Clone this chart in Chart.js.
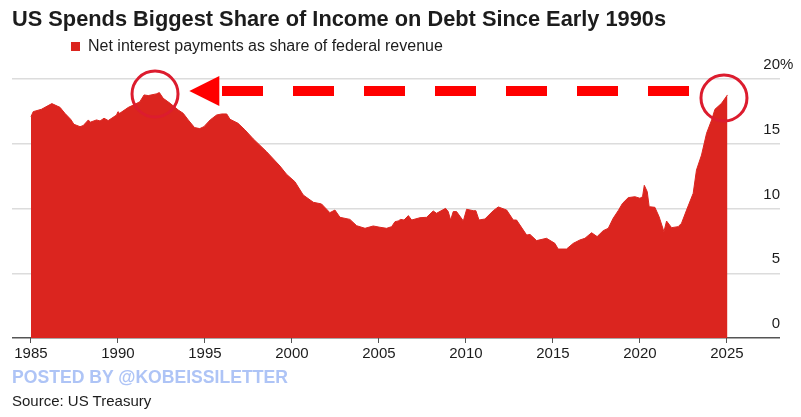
<!DOCTYPE html>
<html>
<head>
<meta charset="utf-8">
<title>US Spends Biggest Share of Income on Debt Since Early 1990s</title>
<script src="https://cdn.jsdelivr.net/npm/chart.js@4"></script>
<style>
    html, body { margin: 0; padding: 0; background: #fff; }
    body { width: 801px; height: 417px; position: relative; overflow: hidden; font-family: "Liberation Sans", Arial, sans-serif; color: #1c1c1c; }
    canvas { position: absolute; left: 0; top: 0; }
    .texto { position: absolute; white-space: nowrap; }
    #titulo { left: 12px; top: 6px; font-size: 21.8px; font-weight: bold; }
    #leyenda { left: 88px; top: 37px; font-size: 16px; }
    #cuadro { position: absolute; left: 71px; top: 42px; width: 9px; height: 9px; background: #db251f; }
    #marca { left: 12px; top: 367px; font-size: 17.6px; font-weight: bold; color: #aec4f6; }
    #fuente { left: 12px; top: 392px; font-size: 15px; }
</style>
</head>
<body>
<canvas id="grafica" width="801" height="417"></canvas>
<div class="texto" id="titulo">US Spends Biggest Share of Income on Debt Since Early 1990s</div>
<div id="cuadro"></div>
<div class="texto" id="leyenda">Net interest payments as share of federal revenue</div>
<div class="texto" id="marca">POSTED BY @KOBEISSILETTER</div>
<div class="texto" id="fuente">Source: US Treasury</div>
<script>
const years = [
    1985, 1985.13, 1985.6, 1986.2, 1986.67, 1986.95, 1987.28, 1987.47, 1987.82, 1988, 1988.3, 1988.4,
    1988.77, 1988.97, 1989.2, 1989.44, 1989.92, 1990, 1990.1, 1990.6, 1990.98, 1991.26, 1991.5, 1991.74,
    1992.2, 1992.38, 1992.6, 1993, 1993.47, 1993.75, 1994.04, 1994.4, 1994.7, 1994.94, 1995.3, 1995.67,
    1995.96, 1996.25, 1996.44, 1996.9, 1997.3, 1997.78, 1998.54, 1999.31, 1999.69, 2000.17, 2000.65, 2001.23,
    2001.7, 2002.18, 2002.47, 2002.76, 2003.33, 2003.72, 2004.2, 2004.67, 2005.06, 2005.44, 2005.73, 2005.92,
    2006.11, 2006.25, 2006.44, 2006.69, 2006.88, 2007.36, 2007.74, 2008.12, 2008.31, 2008.83, 2008.98, 2009.12,
    2009.27, 2009.46, 2009.85, 2010.04, 2010.42, 2010.57, 2010.75, 2011.09, 2011.57, 2011.86, 2012.34, 2012.72,
    2012.91, 2013.49, 2013.68, 2014.06, 2014.63, 2015.11, 2015.3, 2015.78, 2016.17, 2016.55, 2016.84, 2017.22,
    2017.54, 2017.89, 2018.18, 2018.46, 2018.75, 2019, 2019.33, 2019.71, 2020, 2020.15, 2020.25, 2020.42,
    2020.53, 2020.86, 2021.1, 2021.38, 2021.53, 2021.82, 2022.2, 2022.39, 2022.68, 2023.06, 2023.25, 2023.54,
    2023.83, 2024.12, 2024.31, 2024.69, 2025.03
];
const shares = [
    17.09, 17.48, 17.66, 18.1, 17.81, 17.35, 16.89, 16.5, 16.32, 16.4, 16.84, 16.66,
    16.84, 16.76, 16.97, 16.79, 17.22, 17.48, 17.35, 17.81, 18.05, 18.25, 18.77, 18.72,
    18.85, 18.95, 18.51, 18.12, 17.6, 17.35, 16.84, 16.25, 16.17, 16.32, 16.84, 17.22,
    17.3, 17.3, 16.89, 16.58, 16.07, 15.37, 14.39, 13.28, 12.64, 12.07, 11.04, 10.48,
    10.35, 9.68, 9.88, 9.32, 9.16, 8.67, 8.47, 8.65, 8.55, 8.47, 8.6, 8.98,
    9.04, 9.16, 9.11, 9.45, 9.11, 9.29, 9.32, 9.81, 9.63, 10.01, 9.76, 9.11,
    9.76, 9.76, 9.04, 9.94, 9.83, 9.83, 9.11, 9.19, 9.83, 10.12, 9.88, 9.11,
    9.11, 7.95, 8, 7.52, 7.7, 7.31, 6.87, 6.87, 7.31, 7.57, 7.7, 8.13,
    7.83, 8.29, 8.47, 9.24, 9.83, 10.4, 10.84, 10.91, 10.79, 10.91, 11.79, 11.3,
    10.14, 10.09, 9.37, 8.21, 9.03, 8.52, 8.6, 8.86, 9.88, 11.17, 12.97, 14.13,
    15.81, 16.83, 17.66, 18.12, 18.77
];
const xTicks = [1985, 1990, 1995, 2000, 2005, 2010, 2015, 2020, 2025];
const yTicks = [0, 5, 10, 15, 20];

// anotaciones: circulos sobre los dos picos y la flecha punteada entre ellos
const circleYears = [1992.13, 2024.83];
const circleValues = [18.84, 18.53];
const arrowYears = [2022.82, 1995.98];
const arrowValues = [19.07, 19.07];
const arrowTipYear = 1994.1;

const rojo = '#db251f';

const extras = {
    id: 'extras',
    afterDatasetsDraw(chart) {
        const { ctx, scales } = chart;
        const tipX = scales.x.getPixelForValue(arrowTipYear);
        const midY = scales.y.getPixelForValue(arrowValues[0]);
        ctx.save();
        ctx.fillStyle = '#ff0000';
        ctx.beginPath();
        ctx.moveTo(tipX, midY);
        ctx.lineTo(tipX + 30, midY - 15);
        ctx.lineTo(tipX + 30, midY + 15);
        ctx.closePath();
        ctx.fill();
        ctx.restore();
    },
    afterDraw(chart) {
        // el % queda colgando a la derecha del 20
        const { ctx, scales } = chart;
        ctx.save();
        ctx.font = '15px "Liberation Sans"';
        ctx.fillStyle = '#1c1c1c';
        ctx.textBaseline = 'middle';
        ctx.fillText('%', scales.y.right, scales.y.getPixelForValue(20) - 14);
        ctx.restore();
    }
};

new Chart(document.getElementById('grafica'), {
    type: 'line',
    data: {
        datasets: [
            {
                data: circleYears.map((x, i) => ({ x: x, y: circleValues[i] })),
                showLine: false,
                clip: false,
                pointStyle: 'circle',
                pointRadius: 23,
                pointBorderWidth: 3,
                pointBorderColor: '#dc1c2e',
                pointBackgroundColor: 'rgba(0,0,0,0)'
            },
            {
                data: arrowYears.map((x, i) => ({ x: x, y: arrowValues[i] })),
                borderColor: '#ff0000',
                borderWidth: 10,
                borderDash: [41, 30],
                borderCapStyle: 'butt',
                pointRadius: 0
            },
            {
                label: 'Net interest payments as share of federal revenue',
                data: years.map((x, i) => ({ x: x, y: shares[i] })),
                borderColor: rojo,
                borderWidth: 1,
                backgroundColor: rojo,
                fill: 'origin',
                tension: 0,
                pointRadius: 0
            }
        ]
    },
    plugins: [extras],
    options: {
        responsive: false,
        animation: false,
        // sin autoPadding: los circulos grandes no deben encoger el area
        layout: { autoPadding: false, padding: { left: 12, top: 79, right: 21, bottom: 55 } },
        plugins: {
            legend: { display: false },
            title: { display: false },
            tooltip: { enabled: false }
        },
        scales: {
            x: {
                type: 'linear',
                min: 1983.91,
                max: 2028.05,
                afterFit: s => { s.height = 24; },
                afterBuildTicks: s => { s.ticks = xTicks.map(v => ({ value: v })); },
                border: { display: false },
                grid: { drawOnChartArea: false, drawTicks: true, tickLength: 5, color: '#555555' },
                ticks: {
                    callback: v => String(v),
                    maxRotation: 0,
                    autoSkip: false,
                    padding: 2,
                    color: '#1c1c1c',
                    font: { family: '"Liberation Sans"', size: 15 }
                }
            },
            y: {
                position: 'right',
                min: 0,
                max: 20,
                afterFit: s => { s.width = 0; },
                afterBuildTicks: s => { s.ticks = yTicks.map(v => ({ value: v })); },
                border: { display: false },
                grid: {
                    drawTicks: false,
                    tickLength: 0,
                    lineWidth: 1.5,
                    color: c => (c.tick && c.tick.value === 0 ? '#555555' : '#dcdcdc')
                },
                ticks: {
                    mirror: true,
                    padding: 0,
                    labelOffset: -14,
                    color: '#1c1c1c',
                    callback: v => String(v),
                    font: { family: '"Liberation Sans"', size: 15 }
                }
            }
        }
    }
});
</script>
</body>
</html>
